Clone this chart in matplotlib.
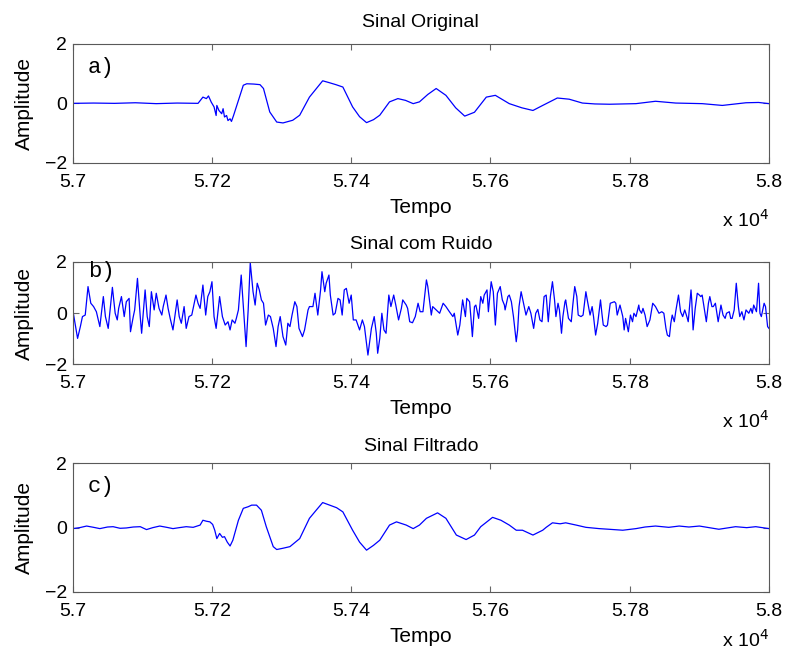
import matplotlib
matplotlib.use('Agg')
import matplotlib.pyplot as plt
import numpy as np

plt.rcParams['font.family'] = ['Liberation Sans', 'DejaVu Sans']
plt.rcParams['axes.unicode_minus'] = True

# x axis ticks (Tempo, in units of 10^4)
xticks = [57000, 57200, 57400, 57600, 57800, 58000]
xtick_labels = ['5.7', '5.72', '5.74', '5.76', '5.78', '5.8']
yticks = [-2, 0, 2]

# a) original signal
t_orig = [57000, 57030, 57060, 57090, 57120, 57150, 57180, 57187, 57192, 57195,
          57199, 57203, 57206, 57207, 57210, 57214, 57216, 57218, 57221, 57223,
          57226, 57228, 57231, 57238, 57245, 57250, 57260, 57269, 57274, 57283,
          57293, 57302, 57316, 57326, 57340, 57350, 57359, 57368, 57378, 57388,
          57402, 57412, 57422, 57432, 57441, 57455, 57467, 57478, 57489, 57498,
          57510, 57522, 57536, 57550, 57563, 57577, 57594, 57607, 57627, 57645,
          57661, 57675, 57696, 57713, 57732, 57750, 57771, 57790, 57809, 57837,
          57866, 57904, 57933, 57967, 57985, 58000]
a_orig = [0.0, 0.01, 0.0, 0.02, -0.01, 0.01, 0.0, 0.21, 0.16, 0.25,
          0.04, -0.12, -0.41, -0.07, -0.24, -0.35, -0.18, -0.46, -0.41, -0.58,
          -0.52, -0.61, -0.41, 0.1, 0.61, 0.66, 0.65, 0.63, 0.5, -0.29,
          -0.63, -0.66, -0.57, -0.4, 0.21, 0.5, 0.76, 0.7, 0.63, 0.55,
          -0.12, -0.45, -0.65, -0.55, -0.4, 0.05, 0.16, 0.1, -0.01, 0.05,
          0.3, 0.5, 0.27, -0.15, -0.43, -0.3, 0.21, 0.27, -0.01, -0.15,
          -0.24, -0.07, 0.18, 0.14, 0.01, -0.02, -0.03, -0.02, -0.01, 0.07,
          0.01, -0.01, -0.07, 0.02, 0.03, -0.01]

# b) signal with noise
t_noise = [57000, 57007, 57011, 57014, 57018, 57022, 57026, 57030, 57034, 57039,
           57044, 57047, 57051, 57057, 57061, 57064, 57066, 57070, 57074, 57077,
           57081, 57083, 57087, 57089, 57093, 57097, 57099, 57104, 57107, 57110,
           57113, 57117, 57120, 57124, 57128, 57130, 57134, 57137, 57140, 57144,
           57150, 57153, 57156, 57160, 57163, 57167, 57171, 57177, 57180, 57183,
           57187, 57191, 57194, 57197, 57200, 57203, 57206, 57211, 57215, 57219,
           57223, 57226, 57229, 57233, 57235, 57238, 57242, 57246, 57249, 57252,
           57255, 57259, 57262, 57265, 57268, 57271, 57274, 57277, 57281, 57284,
           57288, 57292, 57295, 57298, 57302, 57306, 57309, 57312, 57315, 57319,
           57322, 57325, 57330, 57333, 57338, 57340, 57345, 57348, 57352, 57356,
           57358, 57362, 57364, 57368, 57370, 57374, 57377, 57381, 57384, 57387,
           57390, 57393, 57397, 57400, 57403, 57407, 57412, 57416, 57419, 57424,
           57429, 57433, 57436, 57438, 57441, 57444, 57447, 57450, 57454, 57457,
           57461, 57464, 57468, 57472, 57474, 57479, 57481, 57484, 57488, 57492,
           57496, 57499, 57503, 57508, 57510, 57515, 57517, 57522, 57527, 57532,
           57536, 57541, 57546, 57548, 57553, 57556, 57560, 57564, 57566, 57570,
           57572, 57574, 57577, 57579, 57583, 57586, 57589, 57591, 57595, 57597,
           57601, 57604, 57607, 57610, 57614, 57617, 57620, 57621, 57625, 57627,
           57630, 57633, 57637, 57639, 57641, 57644, 57646, 57651, 57655, 57658,
           57662, 57665, 57668, 57671, 57674, 57677, 57680, 57683, 57686, 57689,
           57692, 57694, 57697, 57699, 57702, 57704, 57707, 57708, 57712, 57716,
           57718, 57721, 57724, 57726, 57730, 57733, 57737, 57739, 57743, 57746,
           57748, 57751, 57754, 57758, 57760, 57762, 57766, 57768, 57772, 57778,
           57780, 57782, 57786, 57790, 57792, 57794, 57798, 57801, 57804, 57806,
           57809, 57813, 57814, 57817, 57819, 57822, 57825, 57829, 57833, 57837,
           57842, 57846, 57849, 57852, 57854, 57857, 57859, 57861, 57864, 57866,
           57870, 57873, 57876, 57879, 57882, 57884, 57888, 57889, 57891, 57894,
           57897, 57900, 57902, 57904, 57907, 57910, 57913, 57915, 57918, 57920,
           57923, 57927, 57931, 57934, 57937, 57939, 57943, 57945, 57947, 57950,
           57953, 57956, 57958, 57961, 57964, 57967, 57971, 57974, 57976, 57978,
           57982, 57985, 57987, 57989, 57993, 57995, 57998, 58000]
a_noise = [0.14, -0.99, -0.53, -0.14, -0.08, 1.03, 0.38, 0.25, 0.05, -0.53,
           0.64, -0.14, -0.6, 1.0, -0.01, -0.27, 0.18, 0.64, -0.14, 0.44,
           0.57, -0.73, -0.14, 0.12, 1.35, -0.14, -0.79, 0.9, -0.14, -0.53,
           0.83, 0.12, 0.77, 0.18, -0.08, 0.25, 0.7, 0.18, -0.21, -0.66,
           0.51, -0.14, -0.4, 0.25, -0.6, -0.14, -0.08, 0.7, 0.38, 0.18,
           1.09, -0.08, 0.64, 0.83, 1.22, -0.14, -0.6, 0.64, -0.14, -0.47,
           -0.34, -0.66, -0.27, -0.4, -0.21, 0.12, 1.48, -0.14, -1.31, 0.12,
           1.96, 0.83, 0.31, 1.16, 0.9, 0.51, 0.38, -0.47, -0.08, -0.14,
           -0.6, -1.31, -0.53, -0.14, -0.92, -1.25, -0.4, -0.53, -0.08, 0.44,
           0.25, -0.6, -0.92, -0.66, 0.12, 0.25, 0.25, 0.77, -0.08, 0.9,
           1.61, 0.83, 1.16, 1.48, 0.7, -0.08, -0.01, 0.57, 0.51, -0.08,
           0.9, 0.96, 0.38, 0.7, -0.27, -0.27, -0.66, -0.27, -0.53, -1.64,
           -0.6, -0.14, -0.79, -1.57, -0.99, -0.01, -0.66, -0.79, 0.7, 0.25,
           0.7, 0.31, -0.27, 0.18, 0.51, 0.31, 0.18, -0.34, -0.38, -0.14,
           0.38, 0.05, 0.05, 1.29, 1.03, -0.08, 0.25, 0.12, -0.01, 0.38,
           0.25, 0.05, -0.14, -0.01, -0.86, -0.47, 0.51, -0.14, 0.57, 0.44,
           -0.21, -0.92, 0.25, 0.31, -0.21, 0.64, 0.38, 0.7, 0.9, 0.05,
           1.22, 0.83, -0.47, 0.77, 1.03, 0.51, 0.31, 0.12, 0.64, 0.7,
           0.44, -0.14, -1.12, -0.66, 0.25, 0.83, 0.57, -0.08, 0.25, -0.01,
           -0.6, -0.01, 0.14, -0.27, -0.34, 0.64, 0.7, -0.34, 0.64, 1.22,
           0.51, -0.14, 0.38, 0.12, -0.79, -0.14, 0.44, 0.51, -0.21, -0.34,
           0.25, 1.03, 0.64, -0.08, -0.14, -0.08, 0.83, 0.51, -0.08, 0.25,
           -0.14, -0.86, -0.4, 0.51, -0.01, -0.47, -0.53, -0.47, 0.38, 0.44,
           0.38, -0.08, 0.31, -0.14, -0.66, -0.21, -0.73, -0.08, -0.34, -0.01,
           -0.14, 0.31, 0.12, -0.01, 0.18, -0.08, -0.53, -0.27, 0.38, 0.25,
           -0.01, 0.05, -0.01, -0.6, -0.86, -0.92, -0.4, -0.08, -0.34, 0.05,
           0.7, 0.05, -0.14, 0.12, -0.14, -0.34, 0.9, 0.51, -0.66, 0.18,
           0.77, 0.7, 0.64, 0.7, 0.18, -0.34, 0.38, 0.64, 0.25, 0.25,
           0.38, -0.34, 0.31, -0.08, -0.21, -0.01, 0.05, -0.21, -0.21, 0.12,
           1.16, 0.25, -0.14, 0.05, -0.27, 0.12, -0.01, 0.18, -0.01, 0.31,
           0.05, 1.16, -0.01, -0.14, 0.38, 0.25, -0.53, -0.6]

# c) filtered signal
t_filt = [57000, 57010, 57020, 57030, 57039, 57050, 57058, 57068, 57077, 57087,
          57097, 57106, 57115, 57125, 57135, 57144, 57153, 57163, 57173, 57183,
          57187, 57192, 57197, 57201, 57204, 57207, 57211, 57215, 57218, 57222,
          57226, 57230, 57238, 57245, 57252, 57257, 57264, 57271, 57278, 57288,
          57293, 57302, 57312, 57326, 57340, 57350, 57359, 57369, 57379, 57388,
          57402, 57412, 57422, 57432, 57441, 57455, 57465, 57479, 57489, 57498,
          57508, 57524, 57536, 57551, 57565, 57577, 57586, 57603, 57615, 57627,
          57637, 57646, 57661, 57675, 57680, 57689, 57700, 57708, 57723, 57737,
          57756, 57770, 57790, 57809, 57822, 57837, 57856, 57871, 57885, 57900,
          57914, 57928, 57952, 57968, 57981, 58000]
a_filt = [-0.03, 0.0, 0.05, 0.01, -0.03, 0.02, 0.03, -0.02, -0.01, 0.02,
          0.03, -0.06, 0.0, 0.05, 0.01, -0.03, 0.0, 0.03, 0.01, 0.08,
          0.23, 0.2, 0.18, 0.1, -0.08, -0.34, -0.18, -0.3, -0.28, -0.45,
          -0.57, -0.39, 0.23, 0.6, 0.65, 0.7, 0.7, 0.54, 0.03, -0.59,
          -0.68, -0.64, -0.59, -0.34, 0.29, 0.55, 0.78, 0.7, 0.62, 0.49,
          -0.08, -0.45, -0.7, -0.55, -0.39, 0.08, 0.18, 0.08, -0.03, 0.08,
          0.29, 0.46, 0.29, -0.23, -0.37, -0.23, 0.03, 0.32, 0.23, 0.08,
          -0.08, -0.08, -0.23, -0.08, 0.01, 0.15, 0.12, 0.15, 0.08, 0.01,
          -0.03, -0.05, -0.08, -0.03, 0.02, 0.05, 0.01, 0.05, 0.02, 0.05,
          0.0, -0.05, 0.03, 0.0, 0.03, -0.03]

fig = plt.figure(figsize=(7.85, 6.54), dpi=100)
W, H = 785.0, 654.0
# axes boxes in pixels: (left, top, right, bottom)
boxes = [(72.7, 44.0, 769.0, 162.7), (72.7, 261.7, 769.0, 364.3), (72.7, 463.3, 769.0, 592.0)]
titles = ['Sinal Original', 'Sinal com Ruido', 'Sinal Filtrado']
title_pad = [12, 9, 9]
letters = ['a)', 'b)', 'c)']
letter_y = [0.80, 0.90, 0.82]
series = [(t_orig, a_orig), (t_noise, a_noise), (t_filt, a_filt)]
xpow_off = [-57, -57, -48]

for i in range(3):
    l, t, r, b = boxes[i]
    ax = fig.add_axes([l / W, 1 - b / H, (r - l) / W, (b - t) / H])
    ax.plot(series[i][0], series[i][1], color='#0000ff', lw=0.9)
    ax.set_xlim(57000, 58000)
    ax.set_ylim(-2, 2)
    ax.set_xticks(xticks)
    ax.set_xticklabels(xtick_labels)
    ax.set_yticks(yticks)
    ax.tick_params(direction='in', top=True, right=True, length=4, width=0.8,
                   labelsize=14, color='0.4')
    ax.tick_params(axis='x', pad=8)
    ax.tick_params(axis='y', pad=4)
    for s in ax.spines.values():
        s.set_color('0.35')
        s.set_linewidth(0.8)
    ax.set_title(titles[i], fontsize=14, pad=title_pad[i])
    ax.set_xlabel('Tempo', fontsize=15, labelpad=5)
    ax.set_ylabel('Amplitude', fontsize=15, labelpad=8)
    ax.text(0.022, letter_y[i], letters[i], transform=ax.transAxes,
            family='Liberation Mono', fontsize=16, va='center', ha='left')
    ax.annotate(r'x 10$^4$', xy=(1, 0), xycoords='axes fraction',
                xytext=(0, xpow_off[i]), textcoords='offset pixels',
                ha='right', va='center', fontsize=14)

fig.savefig('out.png', dpi=100)
